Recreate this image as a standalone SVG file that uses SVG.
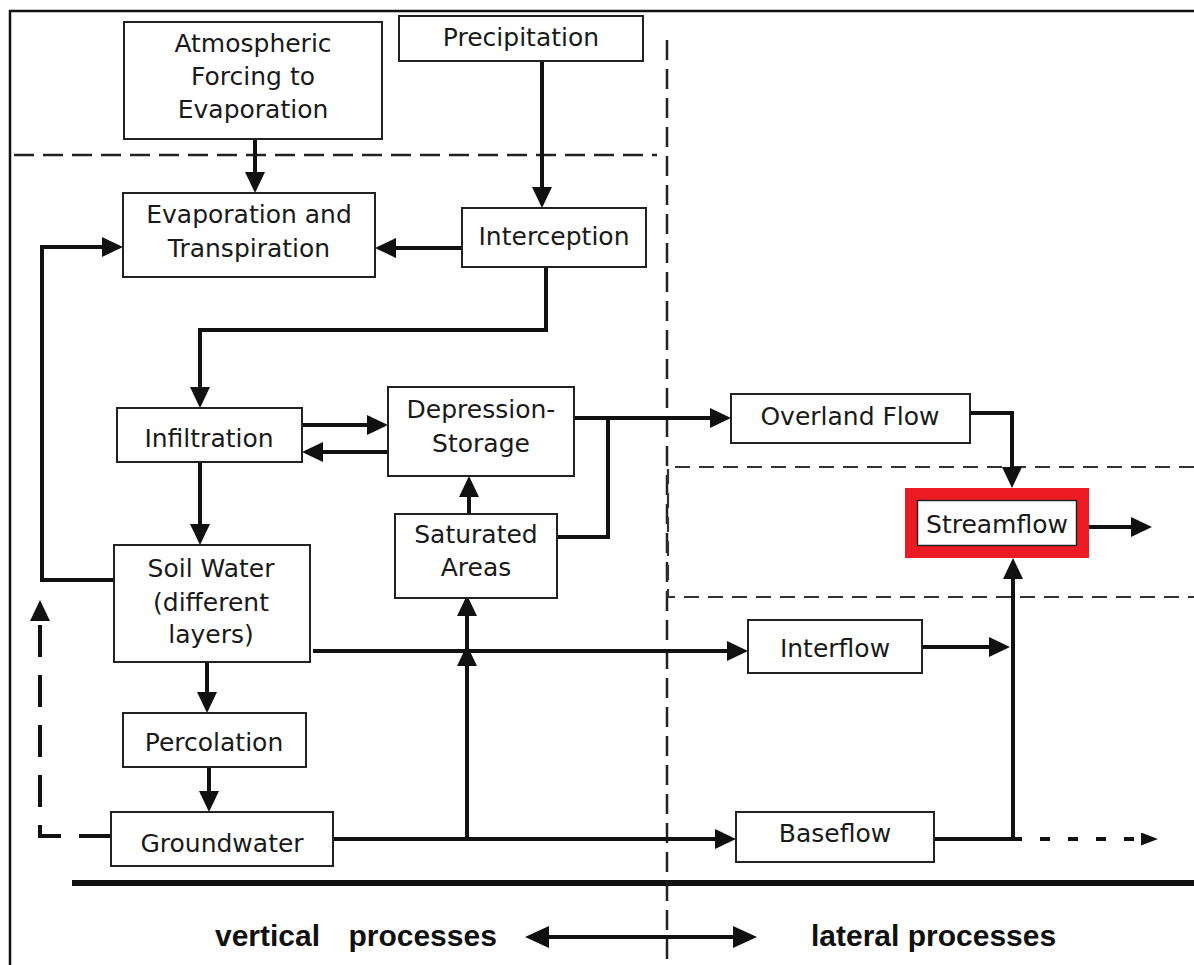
<svg xmlns="http://www.w3.org/2000/svg" width="1194" height="965" viewBox="0 0 1194 965">
<defs>
<style>
.box{fill:#fff;stroke:#222;stroke-width:2}
.lbl{font-family:"DejaVu Sans",sans-serif;font-size:25px;fill:#1a1a1a;text-anchor:middle}
.big{font-family:"Liberation Sans",Arial,sans-serif;font-size:30px;font-weight:bold;fill:#111}
.c{fill:none;stroke:#111;stroke-width:4}
.dash{fill:none;stroke:#222;stroke-width:2.5;stroke-dasharray:20,9}
.dash2{fill:none;stroke:#333;stroke-width:2.2;stroke-dasharray:15,9}
</style>
<marker id="ah" markerUnits="userSpaceOnUse" markerWidth="24" markerHeight="22" refX="17" refY="10" orient="auto">
<path d="M0,0 L21,10 L0,20 z" fill="#111"/>
</marker>
<marker id="ahs" markerUnits="userSpaceOnUse" markerWidth="20" markerHeight="16" refX="12" refY="6.5" orient="auto">
<path d="M0,0 L17,6.5 L0,13 z" fill="#111"/>
</marker>
<marker id="ahb" markerUnits="userSpaceOnUse" markerWidth="26" markerHeight="24" refX="20" refY="11" orient="auto-start-reverse">
<path d="M0,0 L24,11 L0,22 z" fill="#111"/>
</marker>
</defs>
<rect width="1194" height="965" fill="#fff"/>

<g id="frame">
<path d="M10,965 V11 H1194" fill="none" stroke="#111" stroke-width="2.5"/>
<line x1="72" y1="883" x2="1194" y2="883" stroke="#111" stroke-width="6"/>
<path class="dash" d="M14,155 H657"/>
<path class="dash" d="M667,40 V965"/>
<path class="dash2" d="M1194,467 H668 V597 H1194"/>
</g>

<g id="connectors">
<path class="c" d="M255,139 V189" marker-end="url(#ah)"/>
<path class="c" d="M542,61 V204" marker-end="url(#ah)"/>
<path class="c" d="M462,248 H379" marker-end="url(#ah)"/>
<path class="c" d="M546,267 V330 H200 V404" marker-end="url(#ah)"/>
<path class="c" d="M114,580 H42 V247 H119" marker-end="url(#ah)"/>
<path class="c" d="M302,425 H384" marker-end="url(#ah)"/>
<path class="c" d="M388,452 H306" marker-end="url(#ah)"/>
<path class="c" d="M200,462 V541" marker-end="url(#ah)"/>
<path class="c" d="M469,514 V480" marker-end="url(#ah)"/>
<path class="c" d="M574,418 H727" marker-end="url(#ah)"/>
<path class="c" d="M557,537 H608 V418"/>
<path class="c" d="M970,413 H1012 V484" marker-end="url(#ah)"/>
<path class="c" d="M1089,527 H1148" marker-end="url(#ah)"/>
<path class="c" d="M313,651 H744" marker-end="url(#ah)"/>
<path class="c" d="M922,647 H1006" marker-end="url(#ah)"/>
<path class="c" d="M1013,839 V562" marker-end="url(#ah)"/>
<path class="c" d="M934,839 H1022"/>
<path class="c" d="M1040,839 H1153" stroke-dasharray="10,18" marker-end="url(#ahs)"/>
<path class="c" d="M207,662 V709" marker-end="url(#ah)"/>
<path class="c" d="M209,767 V808" marker-end="url(#ah)"/>
<path class="c" d="M333,839 H732" marker-end="url(#ah)"/>
<path class="c" d="M467,839 V649" marker-end="url(#ah)"/>
<path class="c" d="M467,653 V599" marker-end="url(#ah)"/>
<path class="c" d="M111,836 H40 V604" stroke-dasharray="32,18" marker-end="url(#ah)"/>
<path class="c" d="M529,937 H753" stroke-width="3" marker-start="url(#ahb)" marker-end="url(#ahb)"/>
</g>

<g id="atmospheric">
<rect class="box" x="124" y="22" width="258" height="117"/>
<text class="lbl" x="253" y="52">Atmospheric</text>
<text class="lbl" x="253" y="85">Forcing to</text>
<text class="lbl" x="253" y="118">Evaporation</text>
</g>
<g id="precipitation">
<rect class="box" x="399" y="16" width="244" height="45"/>
<text class="lbl" x="521" y="46">Precipitation</text>
</g>
<g id="evaporation">
<rect class="box" x="123" y="193" width="252" height="84"/>
<text class="lbl" x="249" y="223">Evaporation and</text>
<text class="lbl" x="249" y="257">Transpiration</text>
</g>
<g id="interception">
<rect class="box" x="462" y="208" width="184" height="59"/>
<text class="lbl" x="554" y="245">Interception</text>
</g>
<g id="infiltration">
<rect class="box" x="117" y="408" width="185" height="54"/>
<text class="lbl" x="209" y="447">Infiltration</text>
</g>
<g id="depression">
<rect class="box" x="388" y="387" width="186" height="89"/>
<text class="lbl" x="481" y="418">Depression-</text>
<text class="lbl" x="481" y="452">Storage</text>
</g>
<g id="saturated">
<rect class="box" x="395" y="514" width="162" height="84"/>
<text class="lbl" x="476" y="543">Saturated</text>
<text class="lbl" x="476" y="576">Areas</text>
</g>
<g id="soilwater">
<rect class="box" x="114" y="545" width="196" height="117"/>
<text class="lbl" x="211" y="577">Soil Water</text>
<text class="lbl" x="211" y="611">(different</text>
<text class="lbl" x="211" y="643">layers)</text>
</g>
<g id="percolation">
<rect class="box" x="123" y="713" width="183" height="54"/>
<text class="lbl" x="214" y="751">Percolation</text>
</g>
<g id="groundwater">
<rect class="box" x="111" y="812" width="222" height="54"/>
<text class="lbl" x="222" y="852">Groundwater</text>
</g>
<g id="overland">
<rect class="box" x="731" y="394" width="239" height="49"/>
<text class="lbl" x="850" y="425">Overland Flow</text>
</g>
<g id="streamflow">
<rect x="911" y="494" width="172" height="58" fill="#fff" stroke="#ed1c24" stroke-width="12"/>
<rect x="917.5" y="500.5" width="159" height="45" fill="none" stroke="#222" stroke-width="1.5"/>
<text class="lbl" x="997" y="533">Streamflow</text>
</g>
<g id="interflow">
<rect class="box" x="748" y="620" width="174" height="53"/>
<text class="lbl" x="835" y="657">Interflow</text>
</g>
<g id="baseflow">
<rect class="box" x="736" y="812" width="198" height="50"/>
<text class="lbl" x="835" y="842">Baseflow</text>
</g>
<g id="labels">
<text class="big" x="215" y="946" word-spacing="20">vertical processes</text>
<text class="big" x="811" y="946">lateral processes</text>
</g>
</svg>
